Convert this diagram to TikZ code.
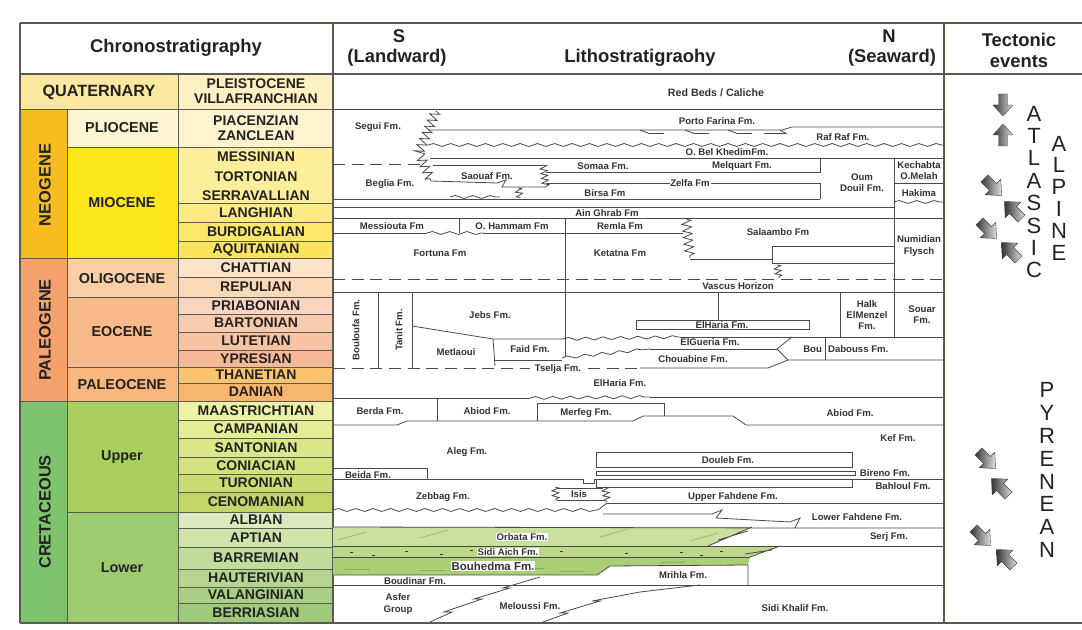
\documentclass[tikz,border=0pt]{standalone}
\usepackage{fontspec}
\setmainfont{Liberation Sans}
\usetikzlibrary{decorations.pathmorphing}
\definecolor{bd}{HTML}{5A5A50}
\definecolor{ln}{HTML}{4A4A4A}
\definecolor{tx}{HTML}{222222}
\definecolor{lt}{HTML}{333333}
\definecolor{quat}{HTML}{FBE9A0}
\definecolor{pleis}{HTML}{FDF0C4}
\definecolor{neog}{HTML}{F7BC22}
\definecolor{plio}{HTML}{FEF5D2}
\definecolor{piac}{HTML}{FEF3CE}
\definecolor{mioc}{HTML}{FDE61C}
\definecolor{mess}{HTML}{FDEE9C}
\definecolor{lang}{HTML}{FCEB82}
\definecolor{burd}{HTML}{FCE76C}
\definecolor{aqui}{HTML}{FCE45E}
\definecolor{paleog}{HTML}{F4A16B}
\definecolor{olig}{HTML}{FBCFA5}
\definecolor{chat}{HTML}{FDE3C8}
\definecolor{repu}{HTML}{FDD9B8}
\definecolor{eoc}{HTML}{F8BA8B}
\definecolor{pria}{HTML}{FBD5BF}
\definecolor{bart}{HTML}{F9CBAD}
\definecolor{lute}{HTML}{F8C3A3}
\definecolor{ypre}{HTML}{F6B897}
\definecolor{paleoc}{HTML}{F9B67D}
\definecolor{than}{HTML}{FAC471}
\definecolor{dani}{HTML}{F8B56D}
\definecolor{cret}{HTML}{7DC46D}
\definecolor{uppr}{HTML}{ABCF5F}
\definecolor{maas}{HTML}{EEF2A7}
\definecolor{camp}{HTML}{E4EC96}
\definecolor{sant}{HTML}{DBE689}
\definecolor{coni}{HTML}{D3E17F}
\definecolor{turo}{HTML}{CCDC74}
\definecolor{ceno}{HTML}{C2D567}
\definecolor{lowr}{HTML}{9ECB6F}
\definecolor{albi}{HTML}{DCEBBF}
\definecolor{apti}{HTML}{CFE4A9}
\definecolor{barr}{HTML}{C1DC9B}
\definecolor{haut}{HTML}{B5D58F}
\definecolor{vala}{HTML}{AACF86}
\definecolor{berr}{HTML}{9ECA7B}
\definecolor{gorb}{HTML}{CBE09E}
\definecolor{gsid}{HTML}{BCD788}
\definecolor{gbou}{HTML}{ABCF76}
\definecolor{ghat}{HTML}{86AE5E}
\newcommand{\chbox}[6]{\fill[#5] (#1,#2) rectangle (#3,#4); \draw[bx] (#1,#2) rectangle (#3,#4);}
\newcommand{\stg}[5]{\fill[#3] (178,#1) rectangle (333,#2); \draw[bx] (178,#1) rectangle (333,#2);
  \node[stt] (#4) at (256,{(#1+#2)/2}) {#5};}
\newcommand{\tecarrow}[4]{\begin{scope}[shift={(#1,#2)},rotate=#3,scale=#4]
  \shade[left color=gray!40!black, right color=gray!25, draw=gray!55!black, line width=0.3pt]
   (-11,-4.5)--(0,-4.5)--(0,-10)--(11,0)--(0,10)--(0,4.5)--(-11,4.5)--cycle;
  \end{scope}}
\begin{document}
\begin{tikzpicture}[x=0.75pt,y=-0.75pt,
  bx/.style={draw=bd, line width=0.6pt},
  ll/.style={draw=ln, line width=0.6pt},
  wv/.style={ll, decorate, decoration={snake, amplitude=1.1pt, segment length=13pt}},
  zg/.style={ll, decorate, decoration={zigzag, amplitude=3.5pt, segment length=5pt}},
  zs/.style={ll, decorate, decoration={zigzag, amplitude=2.6pt, segment length=3.6pt}},
  dsh/.style={ll, dash pattern=on 9pt off 5pt},
  stt/.style={font=\fontsize{10.5}{11.5}\selectfont\bfseries, text=tx, inner sep=0pt, align=center},
  ept/.style={font=\fontsize{10.8}{12}\selectfont\bfseries, text=tx, inner sep=0pt, align=center},
  ert/.style={font=\fontsize{12.3}{14}\selectfont\bfseries, text=tx, inner sep=0pt, rotate=90},
  hdr/.style={font=\fontsize{13.8}{16}\selectfont\bfseries, text=tx, inner sep=0pt, align=center},
  ltx/.style={font=\fontsize{7.2}{8.3}\selectfont\bfseries, text=lt, inner sep=0.6pt, align=center},
  big/.style={font=\fontsize{16.5}{16.8}\selectfont, text=tx, inner sep=0pt, align=center}]
\useasboundingbox (0,0) rectangle (1082,630);
\fill[white] (0,0) rectangle (1082,630);
% ---------- eras ----------
\chbox{20}{74}{178}{109}{quat}{}
\node[ept, font=\fontsize{12.2}{14}\selectfont\bfseries] (quaternary) at (99,92) {QUATERNARY};
\chbox{20}{109}{67}{258}{neog}{}
\node[ert] (neogene) at (45,185) {NEOGENE};
\chbox{20}{258}{67}{401}{paleog}{}
\node[ert] (paleogene) at (45,330) {PALEOGENE};
\chbox{20}{401}{67}{623}{cret}{}
\node[ert] (cretaceous) at (45,512) {CRETACEOUS};
% ---------- epochs ----------
\chbox{67}{109}{178}{147}{plio}{}
\node[ept] (pliocene) at (122,128) {PLIOCENE};
\chbox{67}{147}{178}{258}{mioc}{}
\node[ept] (miocene) at (122,203) {MIOCENE};
\chbox{67}{258}{178}{297}{olig}{}
\node[ept] (oligocene) at (122,279) {OLIGOCENE};
\chbox{67}{297}{178}{367}{eoc}{}
\node[ept] (eocene) at (122,332) {EOCENE};
\chbox{67}{367}{178}{401}{paleoc}{}
\node[ept] (paleocene) at (122,385) {PALEOCENE};
\chbox{67}{401}{178}{512}{uppr}{}
\node[ept] (upper) at (122,457) {Upper};
\chbox{67}{512}{178}{623}{lowr}{}
\node[ept] (lower) at (122,568) {Lower};
% ---------- stages ----------
\stg{74}{109}{pleis}{pleist}{PLEISTOCENE\\VILLAFRANCHIAN}
\stg{109}{147}{piac}{piacenz}{PIACENZIAN\\ZANCLEAN}
\fill[mess] (178,147) rectangle (333,203); \draw[bx] (178,147) rectangle (333,203);
\node[stt] (messinian) at (256,157) {MESSINIAN};
\node[stt] (tortonian) at (256,177) {TORTONIAN};
\node[stt] (serraval) at (256,196) {SERRAVALLIAN};
\stg{203}{222}{lang}{langhian}{LANGHIAN}
\stg{222}{241}{burd}{burdig}{BURDIGALIAN}
\stg{241}{258}{aqui}{aquit}{AQUITANIAN}
\stg{258}{277}{chat}{chattian}{CHATTIAN}
\stg{277}{297}{repu}{repulian}{REPULIAN}
\stg{297}{314}{pria}{priabon}{PRIABONIAN}
\stg{314}{332}{bart}{barton}{BARTONIAN}
\stg{332}{350}{lute}{lutet}{LUTETIAN}
\stg{350}{367}{ypre}{ypres}{YPRESIAN}
\stg{367}{383}{than}{thanet}{THANETIAN}
\stg{383}{401}{dani}{danian}{DANIAN}
\stg{401}{420}{maas}{maastr}{MAASTRICHTIAN}
\stg{420}{438}{camp}{campan}{CAMPANIAN}
\stg{438}{457}{sant}{santon}{SANTONIAN}
\stg{457}{474}{coni}{coniac}{CONIACIAN}
\stg{474}{492}{turo}{turon}{TURONIAN}
\stg{492}{512}{ceno}{cenom}{CENOMANIAN}
\stg{512}{528}{albi}{albian}{ALBIAN}
\stg{528}{547}{apti}{aptian}{APTIAN}
\stg{547}{569}{barr}{barrem}{BARREMIAN}
\stg{569}{587}{haut}{hauter}{HAUTERIVIAN}
\stg{587}{603}{vala}{valang}{VALANGINIAN}
\stg{603}{623}{berr}{berrias}{BERRIASIAN}
% ---------- frame & headers ----------
\draw[bx, line width=0.8pt] (20,23)--(1082,23) (20,623)--(1082,623) (20,74)--(1082,74)
  (20,23)--(20,623) (333,23)--(333,623) (944,23)--(944,623);
\node[hdr] (chrono) at (176,48) {Chronostratigraphy};
\node[hdr] (hs) at (399,36) {S};
\node[hdr] (hland) at (397,58) {(Landward)};
\node[hdr] (hlitho) at (640,58) {Lithostratigraohy};
\node[hdr] (hn) at (889,36) {N};
\node[hdr] (hsea) at (892,58) {(Seaward)};
\node[hdr] (htect) at (1019,40) {Tectonic};
\node[hdr] (hevents) at (1019,62) {events};
% ---------- Quaternary / Pliocene ----------
\draw[ll] (333,109)--(944,109);
\node[ltx, font=\fontsize{8}{9}\selectfont\bfseries] (redbeds) at (716,93) {Red Beds / Caliche};
\draw[zg] (436,111)--(419,152)--(431,181);
\node[ltx] (segui) at (378,127) {Segui Fm.};
\draw[ll] (428,130)--(782,130)--(792,127)--(944,127);
\foreach \tx in {640,685,728} {\draw[ll] (\tx,130)--(\tx+9,133.5)--(\tx+24,133.5);}
\draw[ll] (764,133.5)--(786,133.5)--(780,130);
\node[ltx] (porto) at (717,121) {Porto Farina Fm.};
\node[ltx] (rafraf) at (843,137) {Raf Raf Fm.};
\draw[wv] (428,145)--(944,145);
\node[ltx] (obk) at (727,152) {O. Bel KhedimFm.};
\draw[ll] (430,158)--(944,158);
% ---------- Miocene ----------
\draw[dsh] (333,164)--(426,164);
\draw[ll] (433,165)--(543,165);
\draw[zs] (543,165)--(546,187);
\node[ltx] (somaa) at (603,166) {Somaa Fm.};
\node[ltx] (melq) at (742,166) {Melquart Fm.};
\draw[ll] (546,172)--(820,172)--(820,158);
\node[ltx] (saouaf) at (487,176) {Saouaf Fm.};
\node[ltx] (beglia) at (390,184) {Beglia Fm.};
\draw[ll] (431,181)--(497,183)--(506,180)--(502,187)--(546,187);
\draw[ll] (546,183)--(670,183) (711,183)--(820,183)--(820,199);
\node[ltx] (zelfa) at (690,183) {Zelfa Fm};
\draw[zs] (518,188)--(520,198);
\draw[wv] (450,197)--(500,197);
\node[ltx] (birsa) at (605,193) {Birsa Fm};
\draw[ll] (333,199)--(820,199);
\draw[ll] (333,207)--(894,207);
\node[ltx] (oum) at (862,183) {Oum\\Douil Fm.};
\draw[ll] (894,158)--(894,337);
\draw[ll] (894,183)--(944,183);
\draw[wv] (894,202)--(944,202);
\node[ltx] (kech) at (919,171) {Kechabta\\O.Melah};
\node[ltx] (hakima) at (919,193) {Hakima};
\node[ltx] (aing) at (607,213) {Ain Ghrab Fm};
\draw[ll] (333,218)--(944,218);
\draw[ll] (459,218)--(459,233);
\draw[ll] (333,233)--(427,233) (483,233)--(683,233);
\draw[wv] (427,233)--(483,233);
\draw[ll] (565,218)--(565,357);
\node[ltx] (messi) at (392,226) {Messiouta Fm};
\node[ltx] (ohamm) at (512,226) {O. Hammam Fm};
\node[ltx] (remla) at (620,226) {Remla Fm};
\draw[zg] (686,219)--(690,258);
\draw[ll] (690,259)--(772,259);
\draw[ll] (772,246) rectangle (894,263);
\draw[zs] (777,265)--(779,278);
\node[ltx] (salaambo) at (778,232) {Salaambo Fm};
\node[ltx] (numid) at (919,246) {Numidian\\Flysch};
\node[ltx] (fortuna) at (440,253) {Fortuna Fm};
\node[ltx] (ketatna) at (620,253) {Ketatna Fm};
% ---------- Oligocene / Eocene ----------
\draw[dsh] (333,279)--(944,279);
\node[ltx] (vascus) at (738,286) {Vascus Horizon};
\draw[ll] (333,292)--(944,292);
\draw[ll] (378,292)--(378,368) (412,292)--(412,368);
\node[ltx, rotate=90] (bouloufa) at (356,330) {Bouloufa Fm.};
\node[ltx, rotate=90] (tanit) at (399,330) {Tanit Fm.};
\draw[ll] (412,326)--(493,339)--(563,339);
\draw[wv] (563,339)--(680,337);
\draw[ll] (680,337)--(944,337);
\draw[ll] (718,292)--(718,320) (840,292)--(840,337);
\draw[ll] (636,320) rectangle (809,329);
\node[ltx] (jebs) at (490,315) {Jebs Fm.};
\node[ltx] (elharia1) at (722,325) {ElHaria Fm.};
\node[ltx] (halk) at (867,315) {Halk\\ElMenzel\\Fm.};
\node[ltx] (souar) at (922,315) {Souar\\Fm.};
\draw[ll] (493,339)--(495,366);
\draw[ll] (495,360)--(562,360);
\draw[wv] (562,358)--(650,349);
\draw[ll] (650,349)--(777,349);
\draw[ll] (792,337)--(777,349)--(788,360)--(944,360);
\draw[ll] (825,337)--(825,360);
\node[ltx] (metlaoui) at (456,352) {Metlaoui};
\node[ltx] (faid) at (530,349) {Faid Fm.};
\node[ltx] (elgueria) at (710,342) {ElGueria Fm.};
\node[ltx] (chouab) at (693,359) {Chouabine Fm.};
\node[ltx, anchor=east] (bou) at (823,349) {Bou};
\node[ltx, anchor=west] (dabouss) at (827,349) {Dabouss Fm.};
\draw[dsh] (333,368)--(530,368);
\node[ltx] (tselja) at (558,369) {Tselja Fm.};
\draw[dsh] (588,368)--(640,368);
\draw[ll] (640,368)--(768,368)--(788,360);
\node[ltx] (elharia2) at (620,383) {ElHaria Fm.};
\draw[ll] (333,398)--(530,398) (650,397)--(944,397);
\draw[wv] (530,398)--(650,397);
% ---------- Upper Cretaceous ----------
\draw[ll] (437,398)--(437,421);
\draw[ll] (537,421)--(537,403)--(664,403)--(664,416);
\draw[ll] (333,425)--(397,425)--(407,421)--(633,421)--(643,416)--(733,416)--(746,425)--(944,425);
\node[ltx] (berda) at (380,411) {Berda Fm.};
\node[ltx] (abiod1) at (487,411) {Abiod Fm.};
\node[ltx] (merfeg) at (586,413) {Merfeg Fm.};
\node[ltx] (abiod2) at (850,413) {Abiod Fm.};
\node[ltx] (aleg) at (467,452) {Aleg Fm.};
\node[ltx] (kef) at (898,438) {Kef Fm.};
\draw[ll] (333,468)--(427,468)--(427,479);
\node[ltx] (beida) at (368,475) {Beida Fm.};
\draw[ll] (333,479)--(583,479)--(583,483)--(594,483)--(594,479)--(944,479);
\draw[ll] (596,452) rectangle (852,467);
\node[ltx] (douleb) at (728,460) {Douleb Fm.};
\draw[ll] (596,471) rectangle (855,475);
\node[ltx] (bireno) at (885,473) {Bireno Fm.};
\draw[ll] (596,479)--(596,487)--(852,487)--(852,479);
\node[ltx] (bahloul) at (903,486) {Bahloul Fm.};
\node[ltx] (zebbag) at (443,497) {Zebbag Fm.};
\node[ltx] (upfah) at (733,497) {Upper Fahdene Fm.};
\draw[ll] (557,488)--(603,488) (557,500)--(603,500);
\draw[zs] (555,487)--(556,501);
\draw[zs] (605,487)--(607,502);
\node[ltx] (isis) at (579,494) {Isis};
\draw[ll] (607,503)--(944,503);
\draw[wv] (333,510)--(598,510);
\draw[ll] (598,510)--(607,503);
\node[ltx] (lofah) at (857,517) {Lower Fahdene Fm.};
% ---------- Lower Cretaceous ----------
\fill[gorb] (333,527)--(752,527)--(708,546)--(333,546)--cycle;
\fill[gsid] (333,546)--(780,546)--(750,557)--(333,557)--cycle;
\fill[gbou] (333,557)--(750,557)--(748,565)--(610,566)--(597,575)--(333,575)--cycle;
\foreach \a/\b in {338/540,420/538,520/541,600/537,690/541} {\draw[ghat, line width=0.4pt] (\a,\b)--(\a+28,\b-8);}
\foreach \a/\b in {350/552,372/555,405/551,440/554,470/550,560/551,625/553,680/552,700/555,720/551} {\draw[lt, line width=0.7pt] (\a,\b)--(\a+3,\b);}
\foreach \a/\b in {345/569,420/570,520/568,560/571,660/562} {\draw[ghat, line width=0.4pt] (\a,\b)--(\a+25,\b);}
\draw[ll] (603,514)--(712,514)--(722,510)--(716,518)--(790,522)--(800,518)--(795,528)--(944,528);
\draw[ll] (333,527)--(795,528);
\draw[ll] (752,527)--(708,546) (748,531)--(718,540);
\draw[ll] (333,546)--(944,546);
\draw[ll] (780,546)--(750,557) (772,550)--(745,554);
\draw[ll] (333,557)--(750,557);
\node[ltx] (serj) at (889,537) {Serj Fm.};
\node[ltx, fill=white] (orbata) at (522,537) {Orbata Fm.};
\node[ltx, fill=white] (sidiaich) at (508,552) {Sidi Aich Fm.};
\node[ltx, fill=white, font=\fontsize{8.6}{10}\selectfont\bfseries] (bouhedma) at (493,566) {Bouhedma Fm.};
\draw[ll] (333,575)--(597,575) (597,575)--(610,566)--(748,565)--(748,585);
\draw[ll] (333,585)--(944,585);
\node[ltx] (boudinar) at (415,581) {Boudinar Fm.};
\node[ltx] (mrihla) at (683,575) {Mrihla Fm.};
\draw[ll] (430,622)--(452,612)--(444,612)--(482,599)--(474,599)--(510,588)--(503,588)--(540,577);
\draw[ll] (543,622)--(568,613)--(560,613)--(600,601)--(592,601)--(640,592)--(700,585);
\node[ltx] (asfer) at (398,604) {Asfer\\Group};
\node[ltx] (meloussi) at (530,606) {Meloussi Fm.};
\node[ltx] (sidikh) at (795,608) {Sidi Khalif Fm.};
% ---------- tectonic events ----------
\tecarrow{1003}{105}{-90}{1}
\tecarrow{1003}{135}{90}{1}
\tecarrow{993}{187}{-45}{1.1}
\tecarrow{1013}{210}{135}{1.1}
\tecarrow{988}{230}{-45}{1.1}
\tecarrow{1010}{251}{135}{1.1}
\tecarrow{987}{460}{-45}{1.1}
\tecarrow{1000}{487}{135}{1.1}
\tecarrow{982}{537}{-45}{1.1}
\tecarrow{1005}{558}{135}{1.1}
\node[big] (atlassic) at (1034,192) {A\\T\\L\\A\\S\\S\\I\\C};
\node[big, font=\fontsize{16.5}{16.35}\selectfont] (alpine) at (1059,198) {A\\L\\P\\I\\N\\E};
\node[big, font=\fontsize{16.5}{17.2}\selectfont] (pyrenean) at (1047,470) {P\\Y\\R\\E\\N\\E\\A\\N};
\end{tikzpicture}
\end{document}
